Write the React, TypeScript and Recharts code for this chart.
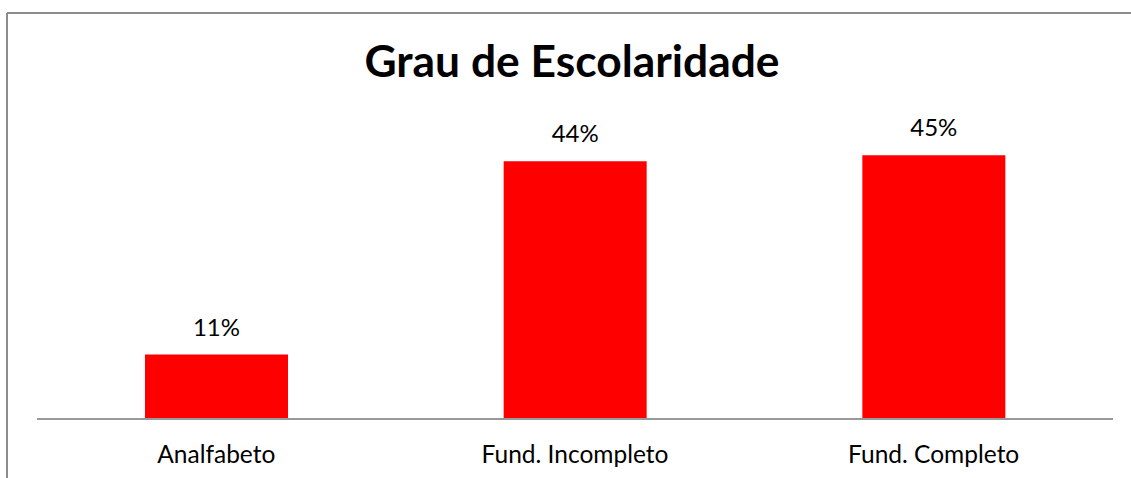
import React from "react";
import { BarChart, Bar, XAxis, YAxis, LabelList } from "recharts";

// Grau de Escolaridade (percent of respondents)
const categories = ["Analfabeto", "Fund. Incompleto", "Fund. Completo"];
const percentages = [11, 44, 45];

const chartData = categories.map((name, i) => ({ name, value: percentages[i] }));

const FONT = "Lato, 'Open Sans', sans-serif";

const CategoryTick = (props: any) => {
  const { x, y, payload } = props;
  return (
    <text x={x} y={y + 36} textAnchor="middle" fill="#000" fontFamily={FONT} fontSize={24.5}>
      {payload.value}
    </text>
  );
};

export default function App() {
  return (
    <div style={{ position: "absolute", left: 0, top: 0, width: 1131, height: 478, background: "#fff" }}>
      {/* frame + title */}
      <svg width={1131} height={478} style={{ position: "absolute", left: 0, top: 0 }}>
        <line x1={7} y1={13} x2={1131} y2={13} stroke="#8c8c8c" strokeWidth={2} />
        <line x1={7} y1={13} x2={7} y2={478} stroke="#8c8c8c" strokeWidth={2} />
        <text
          x={572}
          y={77}
          textAnchor="middle"
          fontFamily={FONT}
          fontWeight="bold"
          fontSize={44}
          textLength={415}
          lengthAdjust="spacingAndGlyphs"
          fill="#000"
        >
          Grau de Escolaridade
        </text>
      </svg>
      <div style={{ position: "absolute", left: 0, top: 0 }}>
        <BarChart
          width={1131}
          height={478}
          data={chartData}
          margin={{ top: 126, right: 18, bottom: 0, left: 37 }}
          barSize={143}
        >
          <XAxis
            dataKey="name"
            height={59}
            axisLine={{ stroke: "#999", strokeWidth: 2 }}
            tickLine={false}
            tick={<CategoryTick />}
          />
          <YAxis hide domain={[0, 50]} />
          <Bar dataKey="value" fill="#ff0000" isAnimationActive={false}>
            <LabelList
              dataKey="value"
              position="top"
              offset={19}
              formatter={(v: any) => `${v}%`}
              fill="#000"
              fontFamily={FONT}
              fontSize={24}
            />
          </Bar>
        </BarChart>
      </div>
    </div>
  );
}
